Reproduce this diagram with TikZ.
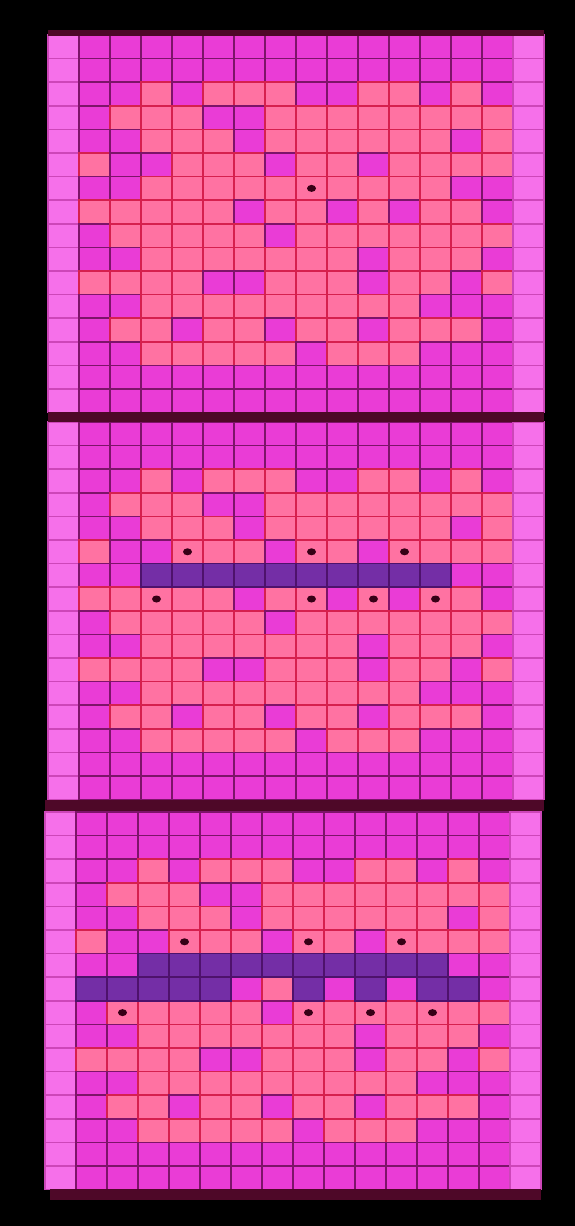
\documentclass[tikz,border=0pt]{standalone}
\definecolor{cL}{RGB}{246,112,234}
\definecolor{cM}{RGB}{234,60,214}
\definecolor{cS}{RGB}{255,114,162}
\definecolor{cP}{RGB}{116,46,166}
\definecolor{lL}{RGB}{205,70,185}
\definecolor{lM}{RGB}{125,20,105}
\definecolor{lS}{RGB}{214,32,78}
\definecolor{lP}{RGB}{78,18,108}
\definecolor{bandc}{RGB}{78,8,40}
\definecolor{holec}{RGB}{55,0,22}
\tikzset{
  cellL/.style={fill=cL,draw=lL},
  cellM/.style={fill=cM,draw=lM},
  cellS/.style={fill=cS,draw=lS},
  cellP/.style={fill=cP,draw=lP},
  hole/.style={fill=holec},
  band/.style={fill=bandc}
}
\begin{document}
\begin{tikzpicture}[x=1pt,y=-1pt,line width=1.5pt]
\fill[black] (0,0) rectangle (575,1226);
\useasboundingbox (0,0) rectangle (575,1226);
\def\cw{31}\def\ch{23.6}
% base pattern, identical in the three panels
\foreach \px/\py in {48/35, 48/422, 45/812} {
  \foreach \lst [count=\ri] in {
    {L,M,M,M,M,M,M,M,M,M,M,M,M,M,M,L},
    {L,M,M,M,M,M,M,M,M,M,M,M,M,M,M,L},
    {L,M,M,S,M,S,S,S,M,M,S,S,M,S,M,L},
    {L,M,S,S,S,M,M,S,S,S,S,S,S,S,S,L},
    {L,M,M,S,S,S,M,S,S,S,S,S,S,M,S,L},
    {L,S,M,M,S,S,S,M,S,S,M,S,S,S,S,L},
    {L,M,M,S,S,S,S,S,S,S,S,S,S,M,M,L},
    {L,S,S,S,S,S,M,S,S,M,S,M,S,S,M,L},
    {L,M,S,S,S,S,S,M,S,S,S,S,S,S,S,L},
    {L,M,M,S,S,S,S,S,S,S,M,S,S,S,M,L},
    {L,S,S,S,S,M,M,S,S,S,M,S,S,M,S,L},
    {L,M,M,S,S,S,S,S,S,S,S,S,M,M,M,L},
    {L,M,S,S,M,S,S,M,S,S,M,S,S,S,M,L},
    {L,M,M,S,S,S,S,S,M,S,S,S,M,M,M,L},
    {L,M,M,M,M,M,M,M,M,M,M,M,M,M,M,L},
    {L,M,M,M,M,M,M,M,M,M,M,M,M,M,M,L}} {
    \foreach \c [count=\ci] in \lst {
      \path[cell\c] ({\px+(\ci-1)*\cw},{\py+(\ri-1)*\ch}) rectangle ++(\cw,\ch);
    }
  }
}
% purple bars
\foreach \px/\py/\r/\c in {
  48/422/7/4, 48/422/7/5, 48/422/7/6, 48/422/7/7, 48/422/7/8,
  48/422/7/9, 48/422/7/10, 48/422/7/11, 48/422/7/12, 48/422/7/13,
  45/812/7/4, 45/812/7/5, 45/812/7/6, 45/812/7/7, 45/812/7/8,
  45/812/7/9, 45/812/7/10, 45/812/7/11, 45/812/7/12, 45/812/7/13,
  45/812/8/2, 45/812/8/3, 45/812/8/4, 45/812/8/5, 45/812/8/6,
  45/812/8/9, 45/812/8/11, 45/812/8/13, 45/812/8/14} {
  \path[cellP] ({\px+(\c-1)*\cw},{\py+(\r-1)*\ch}) rectangle ++(\cw,\ch);
}
% holes
\foreach \px/\py/\r/\c in {
  48/35/7/9,
  48/422/6/5, 48/422/6/9, 48/422/6/12,
  48/422/8/4, 48/422/8/9, 48/422/8/11, 48/422/8/13,
  45/812/6/5, 45/812/6/9, 45/812/6/12,
  45/812/9/3, 45/812/9/9, 45/812/9/11, 45/812/9/13} {
  \fill[hole] ({\px+(\c-0.5)*\cw},{\py+(\r-0.5)*\ch}) ellipse [x radius=4.5, y radius=3.5];
}
% dark bands between and around the panels
\fill[band] (48,30) rectangle (544,36);
\fill[band] (48,412) rectangle (544,422);
\fill[band] (45,799.5) rectangle (544,811);
\fill[band] (50,1189) rectangle (541,1200);
\end{tikzpicture}
\end{document}
